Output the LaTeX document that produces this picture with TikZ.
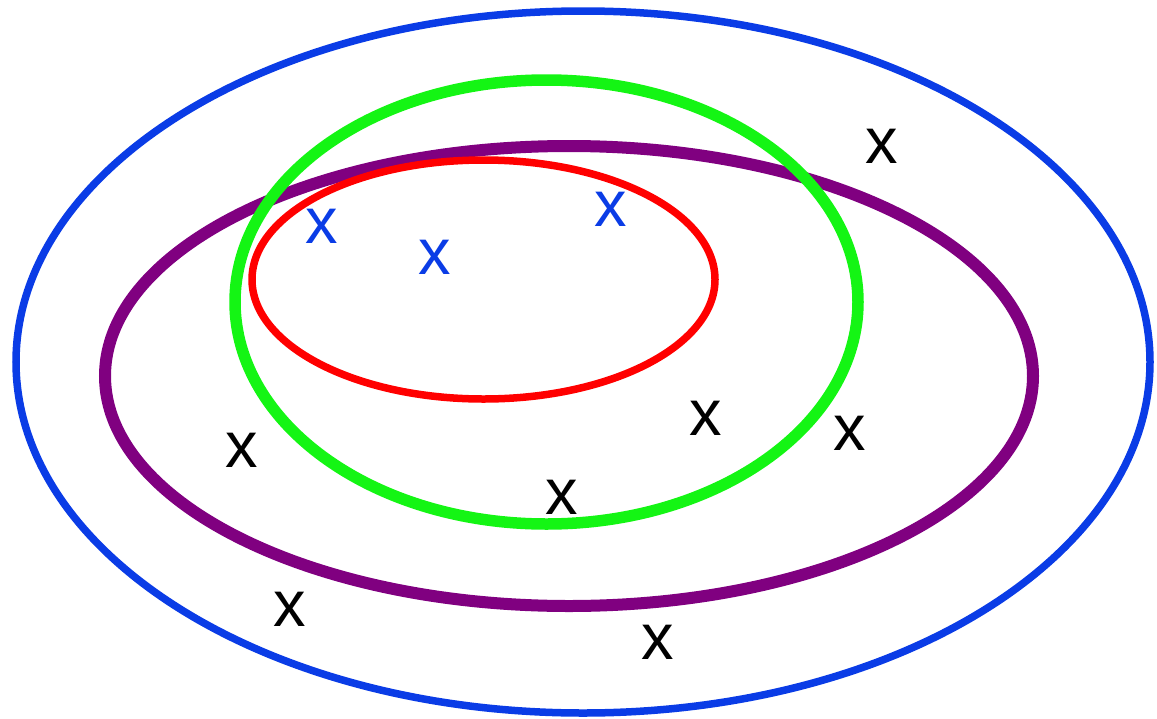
\documentclass[tikz,border=0pt]{standalone}
\usepackage{fontspec}
\setmainfont{Liberation Sans}
\definecolor{cblue}{RGB}{10,60,230}
\definecolor{cpurple}{RGB}{128,0,128}
\definecolor{cgreen}{RGB}{20,245,20}
\definecolor{cred}{RGB}{255,0,0}
\tikzset{
  mark x/.style={inner sep=0pt, font=\fontsize{65}{65}\selectfont},
  blk/.style={mark x, text=black},
  blu/.style={mark x, text=cblue},
}
\begin{document}
\begin{tikzpicture}[x=1pt,y=-1pt]
\useasboundingbox (0,0) rectangle (1157,718);
\draw[cblue, line width=7.5pt] (583,362) ellipse [x radius=567pt, y radius=351pt];
\draw[cpurple, line width=12pt] (569,376) ellipse [x radius=464pt, y radius=230pt];
\draw[cgreen, line width=11.5pt] (546.5,302) ellipse [x radius=311.5pt, y radius=222pt];
\draw[cred, line width=7.5pt] (483.5,279.5) ellipse [x radius=231.5pt, y radius=119.5pt];
\node[blk] (a) at (882,146) {x};
\node[blu] (b) at (322,226) {x};
\node[blu] (c) at (435,257) {x};
\node[blu] (d) at (611,209) {x};
\node[blk] (e) at (706,418) {x};
\node[blk] (f) at (850,433) {x};
\node[blk] (g) at (242,450) {x};
\node[blk] (h) at (562,497) {x};
\node[blk] (i) at (290,609) {x};
\node[blk] (j) at (658,642) {x};
\end{tikzpicture}
\end{document}
